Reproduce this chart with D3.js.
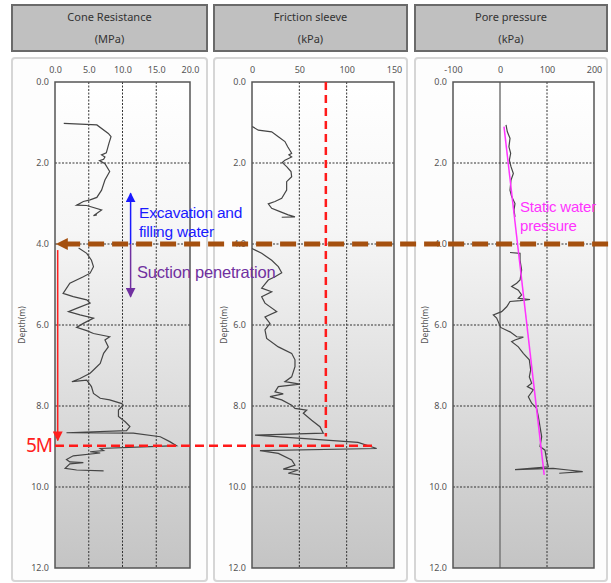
<html>
<head>
<meta charset="utf-8">
<script src="https://d3js.org/d3.v7.min.js"></script>
<style>
body { margin: 0; background: #fff; }
text { font-family: "Noto Sans", sans-serif; }
</style>
</head>
<body>
<svg width="611" height="583"></svg>
<script>
// depth (m), value
var coneUpper = [[1.02,1.3],[1.06,6.2],[1.27,7.9],[1.35,8.3],[1.51,8.0],[1.75,7.6],[1.8,6.9],[1.85,7.4],[1.91,7.2],[1.94,6.6],[2.02,7.4],[2.21,8.1],[2.42,7.4],[2.67,6.9],[2.85,6.2],[2.91,5.2],[2.95,4.2],[3.04,3.2],[3.05,4.7],[3.16,6.9],[3.3,5.7],[3.28,6.2]];
var coneLower = [[4.1,3.5],[4.23,4.7],[4.4,5.4],[4.56,5.7],[4.72,5.2],[4.81,4.2],[4.97,2.2],[5.22,1.2],[5.3,2.7],[5.38,4.7],[5.46,5.2],[5.59,3.2],[5.67,2.0],[5.75,3.7],[5.83,5.7],[5.96,4.2],[6.06,3.2],[6.14,4.7],[6.21,5.7],[6.29,8.1],[6.37,7.4],[6.54,7.9],[6.7,7.2],[6.95,6.7],[7.11,5.7],[7.19,5.2],[7.32,3.7],[7.4,2.5],[7.36,4.7],[7.52,5.4],[7.69,5.7],[7.81,6.7],[7.85,8.1],[7.94,9.9],[7.98,10.1],[8.1,9.4],[8.26,9.4],[8.39,10.4],[8.51,11.1],[8.61,10.6],[8.66,1.7],[8.67,11.6],[8.76,15.6],[8.88,17.0],[8.98,18.0],[9.05,6.7],[9.1,7.2],[9.13,5.2],[9.16,6.7],[9.23,2.7],[9.32,1.7],[9.38,2.2],[9.4,4.2],[9.43,2.2],[9.54,1.5],[9.58,3.2],[9.6,7.2]];
var frictionUpper = [[1.1,0.3],[1.19,6.7],[1.23,20.8],[1.35,27.8],[1.47,34.8],[1.6,37.7],[1.76,41.9],[1.8,39],[1.85,41.9],[1.93,34.8],[1.99,32],[2.09,36.6],[2.21,41.2],[2.34,41.9],[2.46,36.6],[2.67,36.6],[2.87,31.4],[2.95,24.3],[3.01,17.2],[3.12,20.8],[3.2,29.6],[3.28,38.3],[3.33,45.4],[3.34,31.4]];
var frictionLower = [[4.11,0],[4.23,10.2],[4.4,20.8],[4.56,27.8],[4.71,31.4],[4.81,24.3],[4.89,17.2],[5.09,10.2],[5.18,20.8],[5.3,10.2],[5.46,13.7],[5.67,26.1],[5.8,13.7],[5.96,19],[6.12,13.7],[6.33,15.5],[6.54,27.8],[6.7,41.9],[6.86,45.4],[7.03,45.4],[7.28,41.9],[7.4,34.8],[7.46,50.7],[7.52,27.8],[7.65,24.3],[7.7,33],[7.77,19],[7.85,31.4],[7.98,41.9],[8.06,45.4],[8.1,57.8],[8.18,54.2],[8.35,63],[8.51,71.8],[8.67,75.3],[8.72,3.2],[8.9,112],[9.05,131.7],[9.1,8.4],[9.17,27.8],[9.33,41.9],[9.46,45.4],[9.56,33],[9.58,48.9],[9.66,38.3],[9.7,50.7]];
var poreUpper = [[1.06,12.8],[1.23,15.6],[1.39,21.3],[1.6,19],[1.76,22.7],[1.93,19.9],[2.09,23.4],[2.26,28.4],[2.42,23.4],[2.67,21.3],[2.83,24.8],[3.0,31.9],[3.16,29.8],[3.33,31.9]];
var poreLower = [[4.21,21.3],[4.23,42.6],[4.4,42.6],[4.64,46],[4.89,42.6],[4.97,35.5],[5.05,24.8],[5.14,39],[5.26,46],[5.34,39],[5.37,63.8],[5.4,42.6],[5.42,21.3],[5.55,14.2],[5.67,3.5],[5.75,-14.2],[5.83,-7.1],[6.06,1.4],[6.17,21.3],[6.29,35.5],[6.3,49.6],[6.37,31.9],[6.41,24.8],[6.54,39],[6.7,49.6],[6.86,62.4],[7.11,65.2],[7.28,62.4],[7.44,67.4],[7.52,58.2],[7.6,70.9],[7.77,60.3],[7.93,67.4],[8.06,78],[8.26,81.6],[8.51,85.1],[8.76,88.7],[9.0,85.1],[9.09,95.7],[9.33,99.3],[9.5,102.8],[9.57,31.9],[9.54,113],[9.58,145],[9.62,176],[9.66,126]];
var staticWater = [[1.1,8.5],[9.7,94]];

var depthTicks = [0, 2, 4, 6, 8, 10, 12];
var coneTicks = [0, 5, 10, 15, 20];
var frictionTicks = [0, 50, 100, 150];
var poreTicks = [-100, 0, 100, 200];
var titles = ["Cone Resistance", "Friction sleeve", "Pore pressure"];
var units = ["(MPa)", "(kPa)", "(kPa)"];

var svg = d3.select("svg");

var grad = svg.append("defs").append("linearGradient")
    .attr("id", "bg").attr("x1", 0).attr("y1", 0).attr("x2", 0).attr("y2", 1);
grad.append("stop").attr("offset", "0%").attr("stop-color", "#ffffff");
grad.append("stop").attr("offset", "30%").attr("stop-color", "#f6f6f6");
grad.append("stop").attr("offset", "100%").attr("stop-color", "#c4c4c4");

function marker(id, color, w, h) {
  svg.select("defs").append("marker")
    .attr("id", id).attr("viewBox", "0 0 10 10")
    .attr("refX", 9).attr("refY", 5)
    .attr("markerUnits", "userSpaceOnUse")
    .attr("markerWidth", w).attr("markerHeight", h)
    .attr("orient", "auto")
    .append("path").attr("d", "M0,0 L10,5 L0,10 Z").attr("fill", color);
}
marker("mBrown", "#a5500f", 14, 12);
marker("mBlue", "#1a1aff", 10, 10);
marker("mPurple", "#7030a0", 10, 10);
marker("mRed", "#ff2020", 10, 10);

var y = d3.scaleLinear().domain([0, 12]).range([82, 568]);

var panels = [
  {box: [12, 207], x: d3.scaleLinear().domain([0, 20]).range([55, 190]), ticks: coneTicks, fmt: d3.format(".1f"), series: [coneUpper, coneLower], zero: false},
  {box: [214, 407], x: d3.scaleLinear().domain([0, 150]).range([252, 394]), ticks: frictionTicks, fmt: d => String(d), series: [frictionUpper, frictionLower], zero: false},
  {box: [415, 607], x: d3.scaleLinear().domain([-100, 200]).range([453, 594]), ticks: poreTicks, fmt: d => String(d), series: [poreUpper, poreLower], zero: true}
];

panels.forEach(function(p, i) {
  var g = svg.append("g");
  var bw = p.box[1] - p.box[0];
  // header
  g.append("rect").attr("x", p.box[0]).attr("y", 5).attr("width", bw).attr("height", 46)
    .attr("fill", "#c0c0c0").attr("stroke", "#6a6a6a").attr("stroke-width", 2);
  g.append("text").attr("x", p.box[0] + bw / 2).attr("y", 21).attr("text-anchor", "middle")
    .attr("font-size", 11).attr("fill", "#333").text(titles[i]);
  g.append("text").attr("x", p.box[0] + bw / 2).attr("y", 43).attr("text-anchor", "middle")
    .attr("font-size", 11).attr("fill", "#333").text(units[i]);
  // frame
  g.append("rect").attr("x", p.box[0]).attr("y", 58).attr("width", bw).attr("height", 523)
    .attr("rx", 3).attr("fill", "#fdfdfd").attr("stroke", "#d6d6d6").attr("stroke-width", 2);

  var x = p.x;
  var x0 = x.range()[0], x1 = x.range()[1];
  g.append("rect").attr("x", x0).attr("y", y(0)).attr("width", x1 - x0).attr("height", y(12) - y(0))
    .attr("fill", "url(#bg)");

  // grid
  g.selectAll(".gx").data(p.ticks.slice(1, -1)).enter().append("line")
    .attr("x1", d => x(d)).attr("x2", d => x(d)).attr("y1", y(0)).attr("y2", y(12))
    .attr("stroke", d => (p.zero && d === 0) ? "#777" : "#333")
    .attr("stroke-width", d => (p.zero && d === 0) ? 1.5 : 1)
    .attr("stroke-dasharray", d => (p.zero && d === 0) ? null : "2,1.5");
  g.selectAll(".gy").data(depthTicks.slice(1, -1)).enter().append("line")
    .attr("x1", x0).attr("x2", x1).attr("y1", d => y(d)).attr("y2", d => y(d))
    .attr("stroke", "#333").attr("stroke-dasharray", "2,1.5");

  g.append("rect").attr("x", x0).attr("y", y(0)).attr("width", x1 - x0).attr("height", y(12) - y(0))
    .attr("fill", "none").attr("stroke", "#555").attr("stroke-width", 1.5);

  // axes
  var ax = g.append("g").attr("transform", "translate(0," + y(0) + ")")
    .call(d3.axisTop(x).tickValues(p.ticks).tickFormat(p.fmt).tickSize(0).tickPadding(9));
  var ay = g.append("g").attr("transform", "translate(" + x0 + ",0)")
    .call(d3.axisLeft(y).tickValues(depthTicks).tickFormat(d3.format(".1f")).tickSize(0).tickPadding(6));
  [ax, ay].forEach(function(a) {
    a.select(".domain").remove();
    a.selectAll("text").attr("font-size", 9).attr("fill", "#555").attr("font-family", "Noto Sans, sans-serif");
  });
  g.append("text").attr("transform", "translate(" + (p.box[0] + 13) + ",325) rotate(-90)")
    .attr("text-anchor", "middle").attr("font-size", 8.5).attr("fill", "#555").text("Depth(m)");

  // curves
  var line = d3.line().x(d => x(d[1])).y(d => y(d[0]));
  p.series.forEach(function(s) {
    g.append("path").datum(s).attr("d", line)
      .attr("fill", "none").attr("stroke", "#454545").attr("stroke-width", 1.2);
  });
  if (p.zero) {
    g.append("path").datum(staticWater).attr("d", line)
      .attr("fill", "none").attr("stroke", "#ff33ff").attr("stroke-width", 1.5);
  }
});

var cx = panels[0].x, fx = panels[1].x, px = panels[2].x;
var ann = svg.append("g");

// red guides
ann.append("line").attr("x1", fx(78)).attr("x2", fx(78)).attr("y1", y(0)).attr("y2", y(8.75))
  .attr("stroke", "#ff1a1a").attr("stroke-width", 2.5).attr("stroke-dasharray", "8,5");
ann.append("line").attr("x1", cx(0)).attr("x2", fx(132)).attr("y1", y(8.98)).attr("y2", y(8.98))
  .attr("stroke", "#ff1a1a").attr("stroke-width", 2.5).attr("stroke-dasharray", "9,5");
ann.append("line").attr("x1", cx(0.4)).attr("x2", cx(0.4)).attr("y1", y(4.15)).attr("y2", y(8.85))
  .attr("stroke", "#ff2020").attr("stroke-width", 1.5).attr("marker-end", "url(#mRed)");
ann.append("text").attr("x", 26).attr("y", 452).attr("font-size", 19).attr("fill", "#ff2020")
  .attr("letter-spacing", -1).text("5M");

// water level line
ann.append("line").attr("x1", px(230)).attr("x2", cx(0) + 2).attr("y1", y(4)).attr("y2", y(4))
  .attr("stroke", "#a5500f").attr("stroke-width", 5).attr("stroke-dasharray", "16,8")
  .attr("marker-end", "url(#mBrown)");

// excavation / suction arrows
ann.append("line").attr("x1", cx(11.2)).attr("x2", cx(11.2)).attr("y1", y(4)).attr("y2", y(2.75))
  .attr("stroke", "#1a1aff").attr("stroke-width", 1.5).attr("marker-end", "url(#mBlue)");
ann.append("line").attr("x1", cx(11.2)).attr("x2", cx(11.2)).attr("y1", y(4)).attr("y2", y(5.3))
  .attr("stroke", "#7030a0").attr("stroke-width", 1.5).attr("marker-end", "url(#mPurple)");

function label(xp, yp, lines, size, color, dy) {
  var t = ann.append("text").attr("x", xp).attr("y", yp).attr("font-size", size)
    .style("font-family", "'Liberation Sans', sans-serif")
    .attr("fill", color).attr("letter-spacing", -0.2);
  lines.forEach(function(s, k) {
    t.append("tspan").attr("x", xp).attr("dy", k ? dy : 0).text(s);
  });
}
label(139, 217.5, ["Excavation and", "filling water"], 15.5, "#1a1aff", 19);
label(137, 278, ["Suction penetration"], 16.5, "#7030a0", 0);
label(520, 212, ["Static water", "pressure"], 15, "#ff33ff", 18.5);
</script>
</body>
</html>
